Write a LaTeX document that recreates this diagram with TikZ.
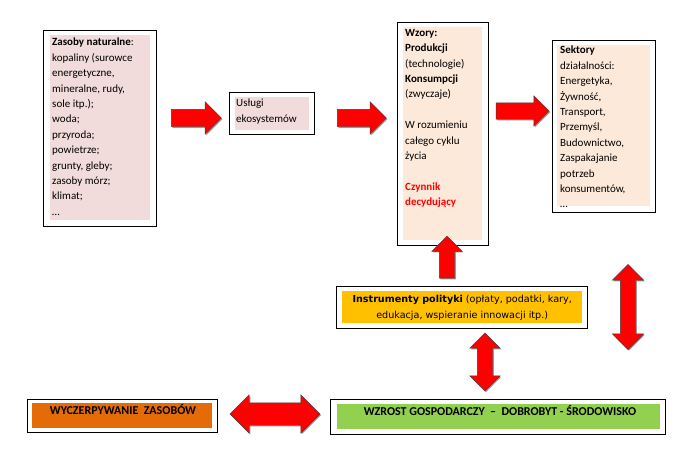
\documentclass[tikz,border=0pt]{standalone}
\usepackage{fontspec}
\setmainfont{Carlito}
\newfontfamily\polfont{DejaVu Sans}
\usetikzlibrary{shapes.arrows,shadows,fit}
\definecolor{pinkc}{HTML}{F2DCDB}
\definecolor{peachc}{HTML}{FDE9D9}
\definecolor{goldc}{HTML}{FFC000}
\definecolor{darkorangec}{HTML}{E36C09}
\definecolor{greenc}{HTML}{92D050}
\begin{document}
\begin{tikzpicture}[x=1pt,y=-1pt,
  outerbox/.style={draw=black, line width=0.9pt, inner sep=0pt, anchor=north west},
  fillrect/.style={inner sep=0pt, draw=none, anchor=north west},
  txt/.style={inner sep=0pt, anchor=north west, align=flush left, font=\fontsize{11}{15.4}\selectfont},
  captxt/.style={inner sep=0pt, anchor=base, font=\bfseries\fontsize{12}{14}\selectfont},
  arrowbase/.style={fill=red, draw=black!75, line width=0.4pt, inner xsep=0pt,
     drop shadow={shadow xshift=1.1pt, shadow yshift=-1.1pt, fill=black!40, opacity=1}},
  rarrow/.style={arrowbase, single arrow, single arrow tip angle=90, single arrow head indent=0pt},
  darrow/.style={arrowbase, double arrow, double arrow tip angle=90, double arrow head indent=0pt}
]
\useasboundingbox[fill=white] (0,0) rectangle (694,464);

% Box 1
\node[outerbox, minimum width=113, minimum height=196] (b1) at (43,30) {};
\node[fillrect, fill=pinkc, minimum width=100, minimum height=185] (f1) at (50,35) {};
\node[txt, text width=100] (t1) at ([xshift=2pt,yshift=-3pt]f1.north west)
 {\textbf{Zasoby naturalne}:\\kopaliny (surowce\\energetyczne,\\mineralne, rudy,\\sole itp.);\\woda;\\przyroda;\\powietrze;\\grunty, gleby;\\zasoby mórz;\\klimat;\\\dots};

% Box 2
\node[outerbox, minimum width=85, minimum height=42] (b2) at (229,92) {};
\node[fillrect, fill=pinkc, minimum width=74, minimum height=33] (f2) at (235,97) {};
\node[txt, text width=74] (t2) at ([xshift=1pt,yshift=-2pt]f2.north west) {Usługi\\ekosystemów};

% Box 3
\node[outerbox, minimum width=91, minimum height=223] (b3) at (397,22) {};
\node[fillrect, fill=peachc, minimum width=79, minimum height=213] (f3) at (403,27) {};
\node[txt, text width=79] (t3) at ([xshift=2pt,yshift=-2pt]f3.north west)
 {\textbf{Wzory:}\\\textbf{Produkcji}\\(technologie)\\\textbf{Konsumpcji}\\(zwyczaje)\\[15.4pt]W rozumieniu\\całego cyklu\\życia\\[15.4pt]\textcolor{red}{\textbf{Czynnik}}\\\textcolor{red}{\textbf{decydujący}}};

% Box 4
\node[outerbox, minimum width=103, minimum height=172] (b4) at (552,40) {};
\node[fillrect, fill=peachc, minimum width=93, minimum height=161] (f4) at (557,45) {};
\node[txt, text width=93] (t4) at ([xshift=3pt,yshift=-1pt]f4.north west)
 {\textbf{Sektory}\\działalności:\\Energetyka,\\Żywność,\\Transport,\\Przemyśl,\\Budownictwo,\\Zaspakajanie\\potrzeb\\konsumentów,\\\dots};

% Instrumenty polityki
\node[outerbox, minimum width=251, minimum height=42] (b5) at (336,286) {};
\node[fillrect, fill=goldc, minimum width=240, minimum height=32] (f5) at (342,291) {};
\node[inner sep=0pt, align=center, font=\polfont\fontsize{9.6}{16}\selectfont] (t5) at ([yshift=-1pt]f5.center)
 {\textbf{Instrumenty polityki} (opłaty, podatki, kary,\\edukacja, wspieranie innowacji itp.)};

% Wyczerpywanie zasobow
\node[outerbox, minimum width=190, minimum height=33] (b6) at (27,399) {};
\node[fillrect, fill=darkorangec, minimum width=180, minimum height=25] (f6) at (32,403) {};
\node[captxt] (t6) at (123,414) {WYCZERPYWANIE\ \ ZASOBÓW};

% Wzrost
\node[outerbox, minimum width=335, minimum height=35] (b7) at (330,399) {};
\node[fillrect, fill=greenc, minimum width=323, minimum height=25] (f7) at (337,404) {};
\node[captxt] (t7) at (500,415) {WZROST GOSPODARCZY \ – \ DOBROBYT - ŚRODOWISKO};

% Arrows
\node[rarrow, minimum height=50, inner ysep=8.5pt, single arrow head extend=7.5pt] (a1) at (192,118) {};
\node[rarrow, minimum height=49, inner ysep=8.5pt, single arrow head extend=7.5pt] (a2) at (357.5,118) {};
\node[rarrow, minimum height=53, inner ysep=8pt, single arrow head extend=7pt] (a3) at (518.5,111) {};
\node[rarrow, rotate=90, minimum height=42, inner ysep=7.5pt, single arrow head extend=7.5pt] (a4) at (447,261) {};
\node[darrow, rotate=90, minimum height=85, inner ysep=7.5pt, double arrow head extend=8pt] (a5) at (628,307) {};
\node[darrow, rotate=90, minimum height=58, inner ysep=7.5pt, double arrow head extend=7.5pt] (a6) at (485,362) {};
\node[darrow, minimum height=90, inner ysep=11pt, double arrow head extend=8pt] (a7) at (275,414) {};
\end{tikzpicture}
\end{document}
